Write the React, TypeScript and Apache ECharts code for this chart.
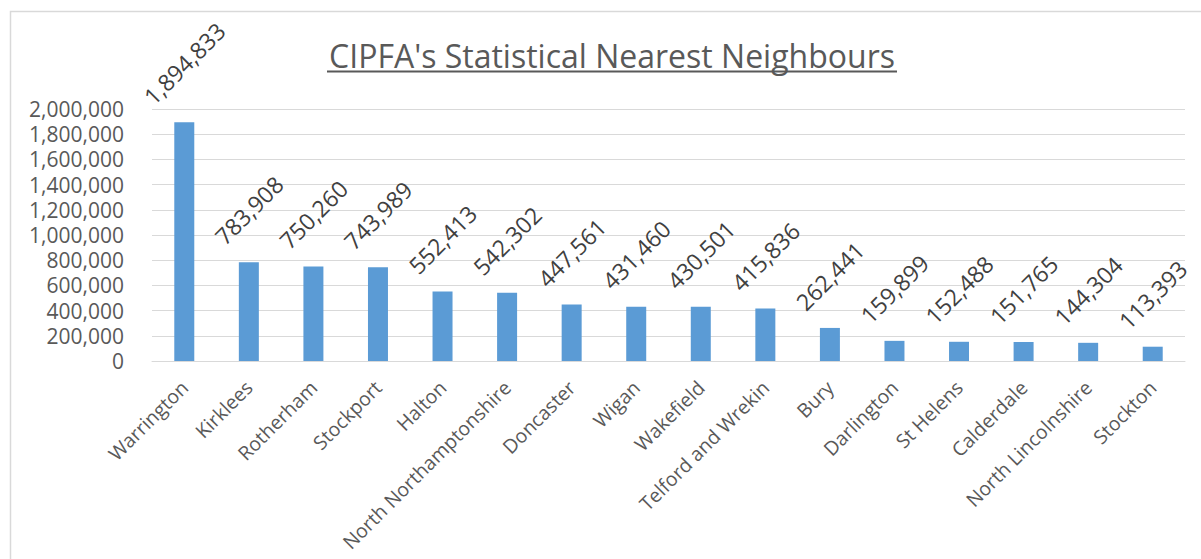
import React, { useEffect, useRef } from "react";
import * as echarts from "echarts";

const categories = [
  "Warrington",
  "Kirklees",
  "Rotherham",
  "Stockport",
  "Halton",
  "North Northamptonshire",
  "Doncaster",
  "Wigan",
  "Wakefield",
  "Telford and Wrekin",
  "Bury",
  "Darlington",
  "St Helens",
  "Calderdale",
  "North Lincolnshire",
  "Stockton",
];

const values = [
  1894833, 783908, 750260, 743989, 552413, 542302, 447561, 431460, 430501,
  415836, 262441, 159899, 152488, 151765, 144304, 113393,
];

const titleText = "CIPFA's Statistical Nearest Neighbours";

const yMin = 0;
const yMax = 2000000;
const yInterval = 200000;

const FONT = "'Open Sans', sans-serif";
const TEXT_COLOR = "#595959";
const LABEL_COLOR = "#404040";
const GRID_COLOR = "#D9D9D9";
const BAR_COLOR = "#5B9BD5";

const fmt = (v: number) => v.toLocaleString("en-US");

export default function App() {
  const ref = useRef<HTMLDivElement>(null);

  useEffect(() => {
    if (!ref.current) return;
    const chart = echarts.init(ref.current, undefined, { renderer: "svg" });

    const labelFont = 23;
    const data = values.map((v) => {
      const s = fmt(v);
      const digits = s.replace(/,/g, "").length;
      const commas = s.length - digits;
      const w = (digits * 0.572 + commas * 0.26) * labelFont;
      return {
        value: v,
        label: { distance: 22 + w * 0.354 },
      };
    });

    chart.setOption({
      animation: false,
      backgroundColor: "#ffffff",
      grid: {
        left: 152,
        right: 16,
        top: 109,
        bottom: 198,
        containLabel: false,
        outerBoundsMode: "none",
      },
      xAxis: {
        type: "category",
        data: categories,
        axisLine: { show: true, lineStyle: { color: GRID_COLOR, width: 1 } },
        axisTick: { show: false },
        axisLabel: {
          interval: 0,
          rotate: 45,
          margin: 23,
          color: TEXT_COLOR,
          fontFamily: FONT,
          fontSize: 19.5,
        },
      },
      yAxis: {
        type: "value",
        min: yMin,
        max: yMax,
        interval: yInterval,
        axisLine: { show: false },
        axisTick: { show: false },
        splitLine: { show: true, lineStyle: { color: GRID_COLOR, width: 1 } },
        axisLabel: {
          margin: 28,
          color: TEXT_COLOR,
          fontFamily: FONT,
          fontSize: 21,
          lineHeight: 21,
          formatter: (v: number) => fmt(v),
        },
      },
      series: [
        {
          type: "bar",
          data,
          barWidth: 20,
          itemStyle: { color: BAR_COLOR },
          label: {
            show: true,
            position: "top",
            rotate: 45,
            align: "center",
            verticalAlign: "middle",
            color: LABEL_COLOR,
            fontFamily: FONT,
            fontSize: labelFont,
            lineHeight: 24,
            formatter: (p: any) => fmt(p.value),
          },
        },
      ],
      graphic: [
        {
          type: "rect",
          shape: { x: 10.5, y: 11.5, width: 1400, height: 800 },
          style: { fill: "none", stroke: GRID_COLOR, lineWidth: 1.5 },
          silent: true,
          z: -1,
        },
        {
          type: "text",
          x: 612,
          y: 55,
          style: {
            text: titleText,
            fill: TEXT_COLOR,
            font: `32px ${FONT}`,
            align: "center",
            verticalAlign: "middle",
          },
        },
        {
          type: "line",
          shape: { x1: 327, y1: 71.5, x2: 897, y2: 71.5 },
          style: { stroke: TEXT_COLOR, lineWidth: 2 },
        },
      ],
    });

    return () => chart.dispose();
  }, []);

  return (
    <div
      ref={ref}
      style={{ position: "absolute", left: 0, top: 0, width: 1201, height: 559 }}
    />
  );
}
